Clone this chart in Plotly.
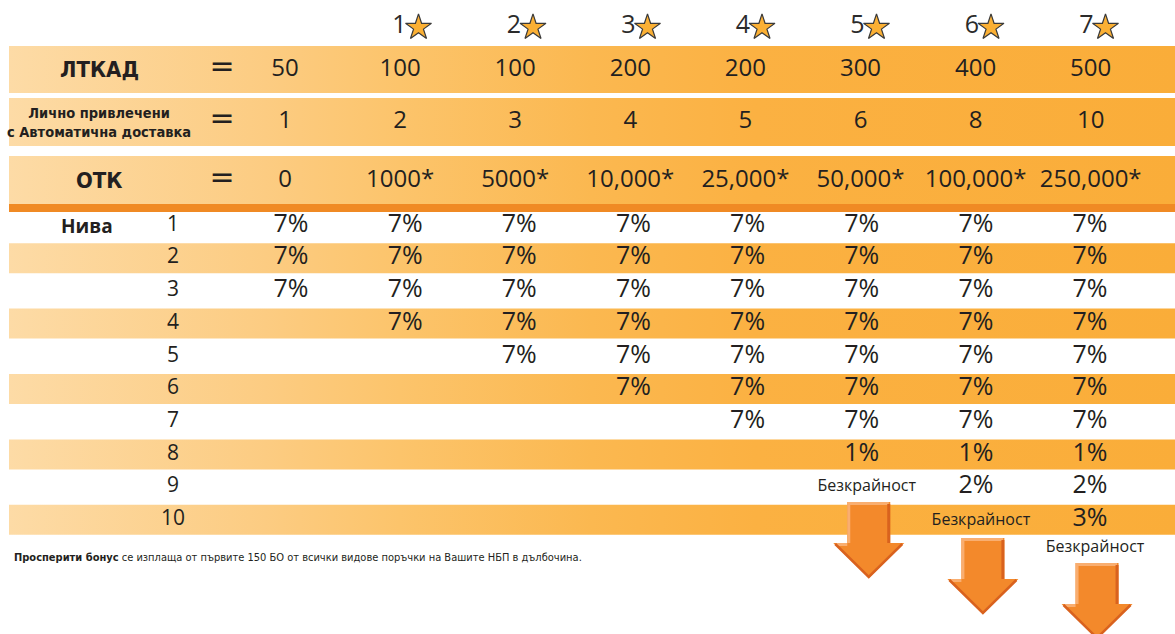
import plotly.graph_objects as go

# ---------------- data ----------------
star_levels = ["1", "2", "3", "4", "5", "6", "7"]
row_labels = ["ЛТКАД", "Лично привлечени<br>с Автоматична доставка", "ОТК"]
ltkad = ["50", "100", "100", "200", "200", "300", "400", "500"]
personal = ["1", "2", "3", "4", "5", "6", "8", "10"]
otk = ["0", "1000*", "5000*", "10,000*", "25,000*", "50,000*", "100,000*", "250,000*"]
levels_title = "Нива"
levels = [1, 2, 3, 4, 5, 6, 7, 8, 9, 10]
bonus_pct = [
    [7, 7, 7, 7, 7, 7, 7, 7],
    [7, 7, 7, 7, 7, 7, 7, 7],
    [7, 7, 7, 7, 7, 7, 7, 7],
    [None, 7, 7, 7, 7, 7, 7, 7],
    [None, None, 7, 7, 7, 7, 7, 7],
    [None, None, None, 7, 7, 7, 7, 7],
    [None, None, None, None, 7, 7, 7, 7],
    [None, None, None, None, None, 1, 1, 1],
    [None, None, None, None, None, None, 2, 2],
    [None, None, None, None, None, None, None, 3],
]
unlimited_level = [None, None, None, None, None, 9, 10, 11]
unlimited_text = "Безкрайност"
footnote_bold = "Просперити бонус"
footnote_rest = " се изплаща от първите 150 БО от всички видове поръчки на Вашите НБП в дълбочина."

# ---------------- layout constants ----------------
W, H = 1175, 634
X0 = 9
NUM_FONT = "Open Sans, Noto Sans, sans-serif"
COND_FONT = "Liberation Sans Narrow, DejaVu Sans Condensed, Roboto, sans-serif"
DARK = "#231F20"
GRAD = [[0.0, "#FDDBA6"], [0.22, "#FCCC82"], [0.335, "#FCC46B"],
        [0.5, "#FBB850"], [0.64, "#FBB142"], [1.0, "#FAAD39"]]

top_bands = [(46, 93), (98, 146), (156, 204)]
top_centers = [69.5, 121.5, 180.5]
col_top_x = [285 + 115.1 * k for k in range(8)]
col_pct_x = [291 + 114.15 * k for k in range(8)]
star_x = [418.5 + 114.5 * k for k in range(7)]
STAR_Y = 26.5
row_y = [225.5 + 32.7 * i for i in range(11)]

fig = go.Figure()

# gradient bands (top header bands + shaded even rows)
bx, by = [], []
rects = list(top_bands) + [(row_y[i] - 15, row_y[i] + 15) for i in range(1, 10, 2)]
for (y0, y1) in rects:
    bx += [X0, W, W, X0, X0, None]
    by += [y0, y0, y1, y1, y0, None]
fig.add_trace(go.Scatter(
    x=bx, y=by, mode="lines", fill="toself", line=dict(width=0),
    fillgradient=dict(type="horizontal", colorscale=GRAD),
    hoverinfo="skip", showlegend=False))

# dark orange strip
fig.add_shape(type="rect", x0=X0, x1=W, y0=204, y1=212,
              fillcolor="#F08A24", line=dict(width=0), layer="above")

# star header
fig.add_trace(go.Scatter(
    x=[sx - 12 for sx in star_x], y=[STAR_Y] * 7, text=star_levels, mode="text",
    textposition="middle left",
    textfont=dict(family=NUM_FONT, size=25, color="#2b2b2b"),
    hoverinfo="skip", showlegend=False))
fig.add_trace(go.Scatter(
    x=star_x, y=[STAR_Y + 1] * 7, mode="markers",
    marker=dict(symbol="star", size=19.5, color="#FBB034",
                line=dict(color="#3a3a3a", width=1.2)),
    hoverinfo="skip", showlegend=False))

# row labels
label_sizes = [22, 14.5, 22]
for i, lab in enumerate(row_labels):
    fig.add_annotation(x=99, y=top_centers[i] + (0 if i != 1 else 1), text="<b>%s</b>" % lab,
                       showarrow=False, xanchor="center", yanchor="middle",
                       font=dict(family=COND_FONT, size=label_sizes[i], color=DARK))
# equals signs
fig.add_trace(go.Scatter(
    x=[222] * 3, y=[c - 1 for c in top_centers], text=["="] * 3, mode="text",
    textfont=dict(family="DejaVu Sans, sans-serif", size=30, color=DARK),
    hoverinfo="skip", showlegend=False))

# header values
for i, vals in enumerate([ltkad, personal, otk]):
    fig.add_trace(go.Scatter(
        x=col_top_x, y=[top_centers[i]] * 8, text=vals, mode="text",
        textfont=dict(family=NUM_FONT, size=24, color=DARK),
        hoverinfo="skip", showlegend=False))

# levels
fig.add_annotation(x=87, y=row_y[0], text="<b>%s</b>" % levels_title, showarrow=False,
                   xanchor="center", yanchor="middle",
                   font=dict(family=NUM_FONT, size=19, color=DARK))
fig.add_trace(go.Scatter(
    x=[173] * len(levels), y=row_y[:10], text=[str(v) for v in levels], mode="text",
    textfont=dict(family=NUM_FONT, size=21, color=DARK),
    hoverinfo="skip", showlegend=False))

# percentages
px, py, pt = [], [], []
for r, row in enumerate(bonus_pct):
    for c, v in enumerate(row):
        if v is not None:
            px.append(col_pct_x[c]); py.append(row_y[r]); pt.append("%d%%" % v)
fig.add_trace(go.Scatter(
    x=px, y=py, text=pt, mode="text",
    textfont=dict(family=NUM_FONT, size=25, color=DARK),
    hoverinfo="skip", showlegend=False))

# unlimited labels + arrows
ux, uy = [], []
unl_y_adj = {9: 486.5, 10: 520.5, 11: 547.5}
for c, lv in enumerate(unlimited_level):
    if lv is not None:
        ux.append(col_pct_x[c] + 5); uy.append(unl_y_adj[lv])
fig.add_trace(go.Scatter(
    x=ux, y=uy, text=[unlimited_text] * len(ux), mode="text",
    textfont=dict(family=NUM_FONT, size=16, color=DARK),
    hoverinfo="skip", showlegend=False))

def arrow(cx, top):
    hs, hh = 21.5, 35.5
    neck, tip = top + 41, top + 76
    main = (f"M {cx-hs},{top} L {cx+hs},{top} L {cx+hs},{neck} L {cx+hh},{neck} "
            f"L {cx},{tip} L {cx-hh},{neck} L {cx-hs},{neck} Z")
    fig.add_shape(type="path", path=main, fillcolor="#F3892B", line=dict(width=0), layer="above")
    light = f"M {cx-hs+1.5},{neck} L {cx-hs+1.5},{top+1.5} L {cx+hs-1.5},{top+1.5}"
    fig.add_shape(type="path", path=light, line=dict(color="#F9AE70", width=3), layer="above")
    light2 = f"M {cx-hh+3},{neck+1.5} L {cx-hs},{neck+1.5}"
    fig.add_shape(type="path", path=light2, line=dict(color="#F9AE70", width=3), layer="above")
    dark = f"M {cx+hs-1.5},{top+2} L {cx+hs-1.5},{neck}"
    fig.add_shape(type="path", path=dark, line=dict(color="#D9621E", width=3), layer="above")
    dark2 = f"M {cx+hh-2},{neck+1} L {cx},{tip-1} L {cx-hh+2},{neck+1}"
    fig.add_shape(type="path", path=dark2, line=dict(color="#D9621E", width=2.5), layer="above")

arrow_tops = {9: 502, 10: 538, 11: 563}
for c, lv in enumerate(unlimited_level):
    if lv is not None:
        arrow(col_pct_x[c] + 7, arrow_tops[lv])

# footnote
fig.add_annotation(x=12, y=557, xanchor="left", yanchor="middle", showarrow=False,
                   text="<b>%s</b>%s" % (footnote_bold, footnote_rest),
                   font=dict(family=COND_FONT, size=11, color=DARK))

fig.update_layout(
    width=W, height=H, margin=dict(l=0, r=0, t=0, b=0),
    paper_bgcolor="white", plot_bgcolor="white",
    xaxis=dict(range=[0, W], visible=False, fixedrange=True),
    yaxis=dict(range=[H, 0], visible=False, fixedrange=True),
    showlegend=False,
)

fig.write_html("out.html", config={"displayModeBar": False},
               post_script="document.body.style.margin='0';document.body.style.overflow='hidden';")
